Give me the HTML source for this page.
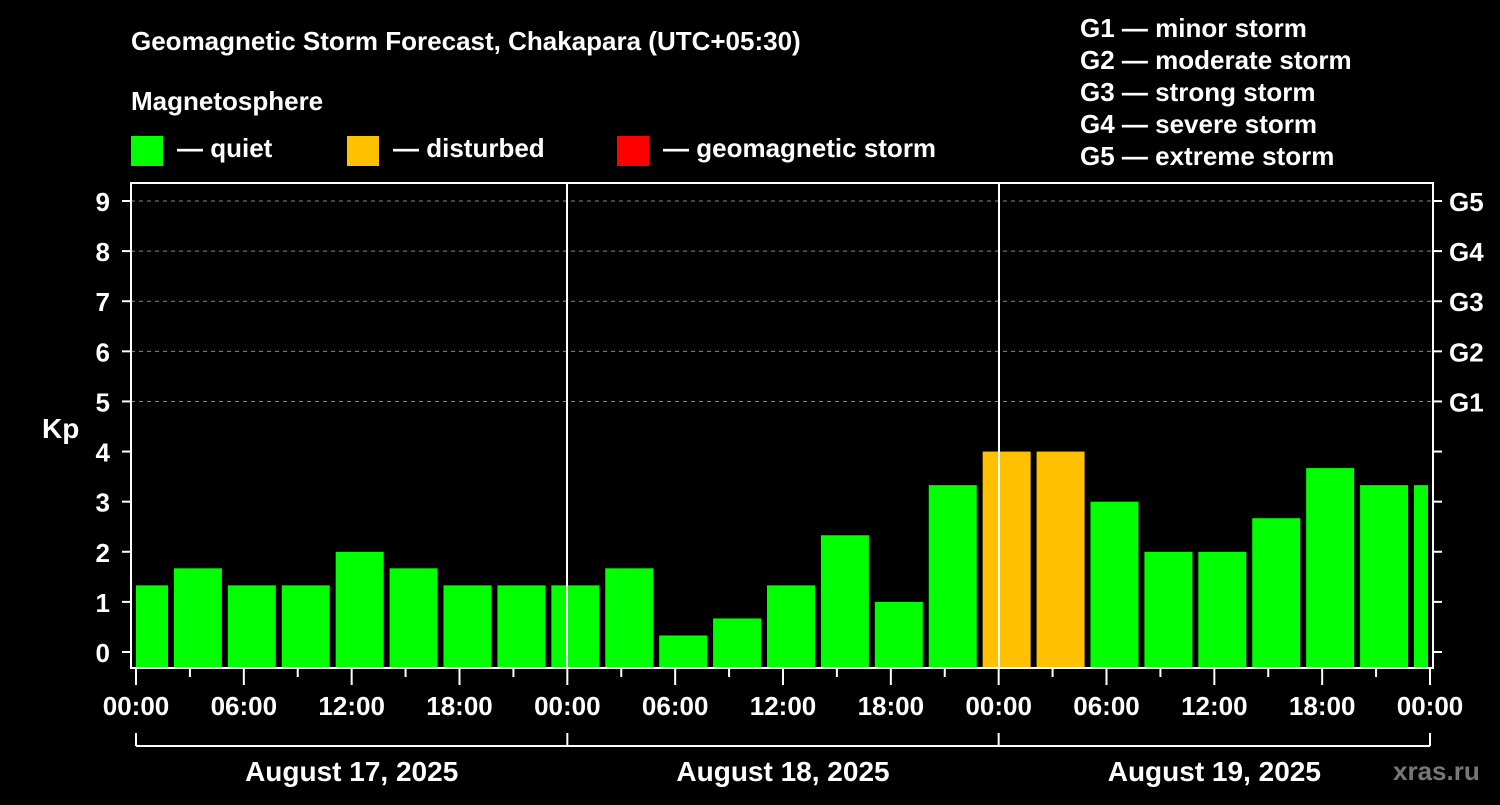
<!DOCTYPE html>
<html><head><meta charset="utf-8"><style>
html,body{margin:0;padding:0;background:#000;}
svg text{font-family:"Liberation Sans",sans-serif;font-weight:bold;fill:#fff;}
</style></head><body>
<svg id="chart" width="1500" height="800" viewBox="0 0 1500 800" xmlns="http://www.w3.org/2000/svg">
<rect width="1500" height="800" fill="#000"/>
<text x="131" y="50" font-size="26">Geomagnetic Storm Forecast, Chakapara (UTC+05:30)</text>
<text x="131" y="110" font-size="26">Magnetosphere</text>
<g>
<rect x="131" y="136" width="32" height="30" fill="#00ff00"/>
<text x="177" y="157" font-size="26">— quiet</text>
<rect x="347" y="136" width="32" height="30" fill="#ffc000"/>
<text x="393" y="157" font-size="26">— disturbed</text>
<rect x="617" y="136" width="32" height="30" fill="#ff0000"/>
<text x="663" y="157" font-size="26">— geomagnetic storm</text>
</g>
<g font-size="26">
<text x="1080" y="37">G1 — minor storm</text>
<text x="1080" y="69">G2 — moderate storm</text>
<text x="1080" y="101">G3 — strong storm</text>
<text x="1080" y="133">G4 — severe storm</text>
<text x="1080" y="165">G5 — extreme storm</text>
</g>
<text x="42" y="438" font-size="28">Kp</text>
<g id="grid"></g>
<g id="bars"></g>
<g id="axes"></g>
<text x="1393" y="780" font-size="26" style="fill:#777">xras.ru</text>
</svg>
<script>
const kpValues = [1.33,1.67,1.33,1.33,2,1.67,1.33,1.33,1.33,1.67,0.33,0.67,1.33,2.33,1,3.33,4,4,3,2,2,2.67,3.67,3.33,3.33];
const yTicks = [0,1,2,3,4,5,6,7,8,9];
const gLabels = ["G1","G2","G3","G4","G5"];
const xTickLabels = ["00:00","06:00","12:00","18:00","00:00","06:00","12:00","18:00","00:00","06:00","12:00","18:00","00:00"];
const dayLabels = ["August 17, 2025","August 18, 2025","August 19, 2025"];

const NS="http://www.w3.org/2000/svg";
const L=131,R=1433,T=183,B=668;
const X0=136,X72=1430;
const xs=h=>X0+(X72-X0)*h/72;
const ys=v=>652-(652-201)*v/9;
function mk(tag,attrs,parent){const e=document.createElementNS(NS,tag);for(const k in attrs)e.setAttribute(k,attrs[k]);parent.appendChild(e);return e;}
const grid=document.getElementById('grid'),bars=document.getElementById('bars'),axes=document.getElementById('axes');
for(let v=5;v<=9;v++){const l=mk('line',{x1:L,x2:R,y1:ys(v),y2:ys(v),stroke:'#888','stroke-width':1,'stroke-dasharray':'4,4'},grid);

}
kpValues.forEach((v,i)=>{
 let h0=3*i-0.89, h1=h0+2.67;
 let a=Math.max(xs(h0),X0), b=Math.min(xs(h1),1428);
 if(b<=a)return;
 const col=v>=5?'#ff0000':(v>=4?'#ffc000':'#00ff00');
 const r=mk('rect',{x:a,y:ys(v),width:b-a,height:667-ys(v),fill:col},bars);
 
 
});
[567,999].forEach(x=>{const l=mk('line',{x1:x,x2:x,y1:T,y2:B,stroke:'#fff','stroke-width':2},axes);

});
const f=mk('rect',{x:L,y:T,width:R-L,height:B-T,fill:'none',stroke:'#fff','stroke-width':2},axes);


yTicks.forEach(v=>{
 mk('line',{x1:122,x2:L,y1:ys(v),y2:ys(v),stroke:'#fff','stroke-width':2},axes);
 mk('line',{x1:R,x2:1442,y1:ys(v),y2:ys(v),stroke:'#fff','stroke-width':2},axes);
 const t=mk('text',{x:110,y:ys(v)+10,'font-size':26,'text-anchor':'end'},axes);t.textContent=v;
 
 
});
gLabels.forEach((g,i)=>{const t=mk('text',{x:1449,y:ys(5+i)+10,'font-size':26},axes);t.textContent=g;
 
 });
for(let h=0;h<=72;h+=3){const major=h%6===0;mk('line',{x1:xs(h),x2:xs(h),y1:B,y2:major?685:677,stroke:'#fff','stroke-width':2},axes);}
xTickLabels.forEach((s,i)=>{const t=mk('text',{x:xs(i*6),y:715,'font-size':26,'text-anchor':'middle'},axes);t.textContent=s;
 
 });
mk('line',{x1:X0,x2:X72,y1:746,y2:746,stroke:'#fff','stroke-width':2},axes);
[0,24,48,72].forEach(h=>mk('line',{x1:xs(h),x2:xs(h),y1:733,y2:746,stroke:'#fff','stroke-width':2},axes));
dayLabels.forEach((s,i)=>{const t=mk('text',{x:xs(i*24+12),y:781,'font-size':28,'text-anchor':'middle'},axes);t.textContent=s;
 
 });
</script>
</body></html>
